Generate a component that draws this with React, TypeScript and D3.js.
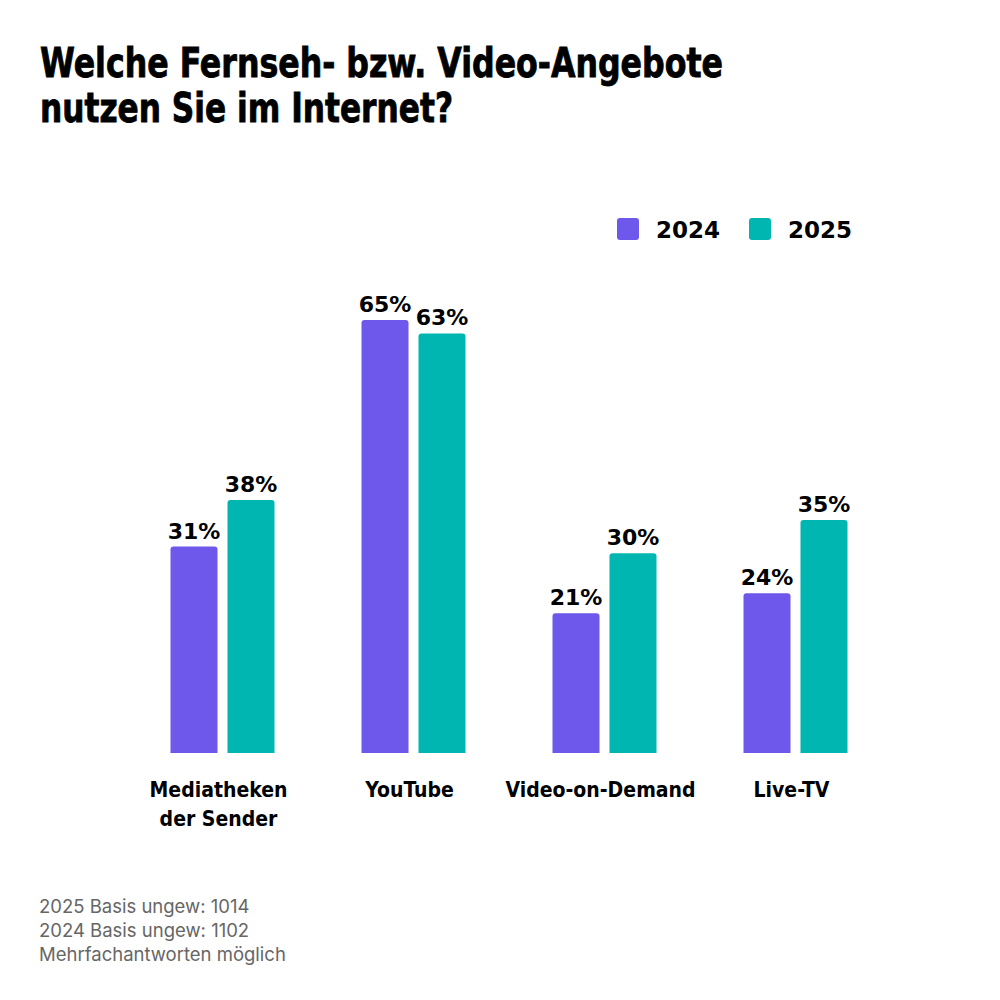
import * as d3 from "d3";
import { useEffect, useRef } from "react";

// data
const categories = [["Mediatheken", "der Sender"], ["YouTube"], ["Video-on-Demand"], ["Live-TV"]];
const series = ["2024", "2025"];
const values2024 = [31, 65, 21, 24];
const values2025 = [38, 63, 30, 35];
const colors = ["#6e57eb", "#00b6b1"];
const titleLines = ["Welche Fernseh- bzw. Video-Angebote", "nutzen Sie im Internet?"];
const notes = ["2025 Basis ungew: 1014", "2024 Basis ungew: 1102", "Mehrfachantworten möglich"];

const W = 1000;
const H = 1000;

const App = () => {
  const svgRef = useRef<SVGSVGElement>(null);

  useEffect(() => {
    const svg = d3.select(svgRef.current);
    svg.selectAll("*").remove();

    svg.append("rect").attr("width", W).attr("height", H).attr("fill", "#fff");

    // titel, schmal gesetzt
    const titleWidths = [683, 413];
    titleLines.forEach((t, i) => {
      svg.append("text")
        .attr("x", 40)
        .attr("y", 77 + i * 45)
        .attr("font-family", "'DejaVu Sans Condensed', 'DejaVu Sans', sans-serif")
        .attr("font-weight", "bold")
        .attr("font-size", 40)
        .attr("textLength", titleWidths[i])
        .attr("lengthAdjust", "spacingAndGlyphs")
        .attr("fill", "#000")
        .attr("stroke", "#000")
        .attr("stroke-width", 0.8)
        .text(t);
    });

    const baseY = 753;
    const y = d3.scaleLinear().domain([0, 100]).range([baseY, baseY - 666]);
    const x0 = d3.scaleBand<number>().domain(d3.range(categories.length)).range([127, 891]).padding(0);
    const x1 = d3.scaleBand<string>().domain(series).range([0, 104]).paddingInner(0.175);

    const rows = categories.map((c, i) => ({ i, vals: [values2024[i], values2025[i]] }));

    const roundTop = (x: number, yTop: number, w: number, h: number, r: number) =>
      `M${x},${yTop + h}V${yTop + r}Q${x},${yTop} ${x + r},${yTop}H${x + w - r}Q${x + w},${yTop} ${x + w},${yTop + r}V${yTop + h}Z`;

    const g = svg.append("g");
    rows.forEach(row => {
      const gx = x0(row.i)! + x0.bandwidth() / 2 - 52;
      series.forEach((s, si) => {
        const v = row.vals[si];
        const bx = gx + x1(s)!;
        const bw = x1.bandwidth();
        g.append("path")
          .attr("d", roundTop(bx, y(v), bw, baseY - y(v), 3))
          .attr("fill", colors[si]);
        g.append("text")
          .attr("x", bx + bw / 2)
          .attr("y", y(v) - 8)
          .attr("text-anchor", "middle")
          .attr("font-family", "'DejaVu Sans', sans-serif")
          .attr("font-weight", "bold")
          .attr("font-size", 22)
          .attr("fill", "#000")
          .text(`${v}%`);
      });
      // kategorie
      const lab = g.append("text")
        .attr("text-anchor", "middle")
        .attr("font-family", "'DejaVu Sans Condensed', 'DejaVu Sans', sans-serif")
        .attr("font-weight", "bold")
        .attr("font-size", 21)
        .attr("fill", "#000");
      categories[row.i].forEach((t, li) => {
        lab.append("tspan")
          .attr("x", x0(row.i)! + x0.bandwidth() / 2 - 4)
          .attr("y", 797 + li * 29)
          .text(t);
      });
    });

    // legende
    const legX = [617, 749];
    series.forEach((s, si) => {
      svg.append("rect")
        .attr("x", legX[si]).attr("y", 218)
        .attr("width", 22).attr("height", 22)
        .attr("rx", 3)
        .attr("fill", colors[si]);
      svg.append("text")
        .attr("x", legX[si] + 39).attr("y", 238)
        .attr("font-family", "'DejaVu Sans', sans-serif")
        .attr("font-weight", "bold")
        .attr("font-size", 23)
        .attr("fill", "#000")
        .text(s);
    });

    // fussnote
    notes.forEach((t, i) => {
      svg.append("text")
        .attr("x", 39).attr("y", 913 + i * 24)
        .attr("font-family", "Inter, sans-serif")
        .attr("font-size", 18.5)
        .attr("fill", "#666")
        .text(t);
    });
  }, []);

  return <svg ref={svgRef} width={W} height={H} style={{ position: "absolute", left: 0, top: 0 }} />;
};

export default App;
